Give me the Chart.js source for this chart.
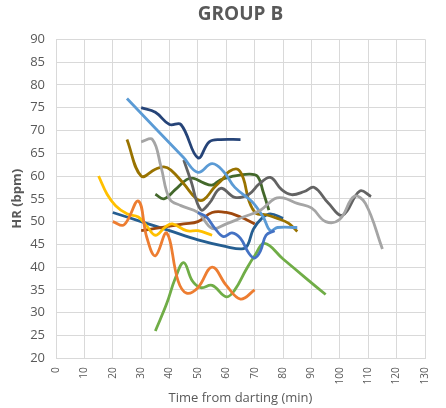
<!DOCTYPE html>
<html>
<head>
<meta charset="utf-8">
<script src="https://cdn.jsdelivr.net/npm/chart.js@4"></script>
<style>
  html, body { margin: 0; padding: 0; background: #fff; }
  canvas { display: block; }
</style>
</head>
<body>
<canvas id="hrChart" width="446" height="408"></canvas>
<script>
// time (min) and HR (bpm) per animal
const time1 = [50, 53, 56, 59, 62, 65, 68, 70, 72, 74, 77];
const hr1   = [52, 51, 48.5, 46.7, 47.5, 46.3, 43, 42, 43.5, 47, 48];

const time2 = [20, 24, 29, 32, 35, 39, 43, 46, 50, 55, 60, 65, 70];
const hr2   = [50, 49.3, 54.5, 46.5, 42.5, 47.5, 37, 34.3, 35.5, 40, 36, 33, 35];

const time3 = [30, 34, 37, 40, 44, 50, 55, 60, 66, 72, 77, 80, 85, 90, 95, 100, 105, 109, 115];
const hr3   = [67.5, 68, 62, 55, 53.5, 52, 48.5, 49.5, 51, 52.5, 55, 55.2, 54, 53, 50, 50.5, 55.5, 54, 44];

const time4 = [15, 18, 21, 25, 29, 32, 35, 38.5, 41, 46, 50, 55];
const hr4   = [60, 56, 53.5, 51.7, 51, 49, 47, 48.8, 49.5, 48, 48, 47];

const time5 = [25, 45, 50, 55, 59, 63, 69, 73, 75.5, 78, 85];
const hr5   = [77, 64, 60.8, 62.7, 61, 57.5, 54.4, 51, 48, 48.7, 48.7];

const time6 = [35, 39, 42, 45, 48, 51, 55, 60, 63, 67, 70, 73.5, 80, 88, 95];
const hr6   = [26, 32, 37.5, 41, 37, 35.5, 36, 33.5, 35, 39.5, 42.5, 45.2, 41.8, 37.6, 34];

const time7 = [30, 35, 40, 44, 50, 54, 58, 65];
const hr7   = [75, 74, 71.3, 71.3, 64, 67.5, 68, 68];

const time8 = [30, 35, 40, 45, 50, 55, 60, 65, 70];
const hr8   = [48, 48.5, 49, 49.5, 50, 52, 52, 51, 49.5];

const time9 = [45, 47.5, 51, 54, 58, 63, 68, 71.5, 75.5, 79.5, 83, 87.5, 91, 96, 101, 107, 111];
const hr9   = [63.5, 59, 52.6, 54, 57.3, 55.3, 56, 58.2, 59.7, 57, 55.9, 56.6, 57.5, 54, 51.4, 56.7, 55.5];

const time10 = [25, 30, 35, 38, 40.5, 45, 49.5, 52, 55.5, 59, 61, 64, 66, 68, 70.5, 74, 78, 82, 85];
const hr10   = [68, 60, 61.5, 62, 61.3, 58.3, 55, 54.8, 57.3, 59.5, 61, 61.5, 59.5, 54.5, 51.8, 51.5, 50.7, 49.6, 47.8];

const time11 = [20, 30, 40, 50, 60, 65.5, 67.5, 69.5, 72.5, 75.5, 80];
const hr11   = [52, 50, 48, 46, 44.5, 44, 44.8, 48.3, 50.7, 51.7, 50.7];

const time12 = [35, 38, 42, 46, 48.5, 52, 55, 58, 62, 68, 71, 73, 75];
const hr12   = [56, 55, 57, 59.2, 59.5, 58.5, 58, 59.2, 59.9, 60.4, 59.9, 56.5, 52.5];

const xTicks = { min: 0, max: 130, step: 10 };
const yTicks = { min: 20, max: 90, step: 5 };

const seriesColors = ['#4472C4', '#ED7D31', '#A5A5A5', '#FFC000', '#5B9BD5', '#70AD47',
                      '#264478', '#9E480E', '#636363', '#997300', '#255E91', '#43682B'];

const times = [time1, time2, time3, time4, time5, time6, time7, time8, time9, time10, time11, time12];
const hrs = [hr1, hr2, hr3, hr4, hr5, hr6, hr7, hr8, hr9, hr10, hr11, hr12];

const textColor = '#595959';
const gridColor = '#d9d9d9';
const fontFamily = "'Open Sans', 'DejaVu Sans', sans-serif";

const datasets = times.map((t, i) => ({
    label: 'Series' + (i + 1),
    data: t.map((x, j) => ({ x: x, y: hrs[i][j] })),
    borderColor: seriesColors[i],
    backgroundColor: seriesColors[i],
    borderWidth: 2.8,
    pointRadius: 0,
    tension: 0.4,
    fill: false
}));

const ctx = document.getElementById('hrChart').getContext('2d');
new Chart(ctx, {
    type: 'line',
    data: { datasets: datasets },
    options: {
        responsive: false,
        animation: false,
        devicePixelRatio: 1,
        layout: { padding: { top: 0, left: 0, right: 12.7, bottom: 0 } },
        plugins: {
            legend: { display: false },
            tooltip: { enabled: false },
            title: {
                display: true,
                text: 'GROUP B',
                fullSize: false,
                color: textColor,
                font: { family: fontFamily, size: 19, weight: 'bold' },
                padding: { top: 3.6, bottom: 12.9 }
            }
        },
        scales: {
            x: {
                type: 'linear',
                min: xTicks.min,
                max: xTicks.max,
                ticks: {
                    stepSize: xTicks.step,
                    minRotation: 90,
                    maxRotation: 90,
                    padding: 9,
                    color: textColor,
                    font: { family: fontFamily, size: 10 }
                },
                grid: { color: gridColor, drawTicks: false },
                border: { color: gridColor },
                title: {
                    display: true,
                    text: 'Time from darting (min)',
                    color: textColor,
                    font: { family: fontFamily, size: 13 },
                    padding: { top: 0, bottom: 2.2 }
                },
                afterFit: scale => { scale.height = 49.7; }
            },
            y: {
                min: yTicks.min,
                max: yTicks.max,
                ticks: {
                    stepSize: yTicks.step,
                    padding: 11,
                    color: textColor,
                    font: { family: fontFamily, size: 13 }
                },
                grid: { color: gridColor, drawTicks: false },
                border: { color: gridColor },
                title: {
                    display: true,
                    text: 'HR (bpm)',
                    color: textColor,
                    font: { family: fontFamily, size: 13, weight: 'bold' },
                    padding: { top: 9, bottom: 0 }
                },
                afterFit: scale => { scale.width = 56; }
            }
        }
    }
});
</script>
</body>
</html>
